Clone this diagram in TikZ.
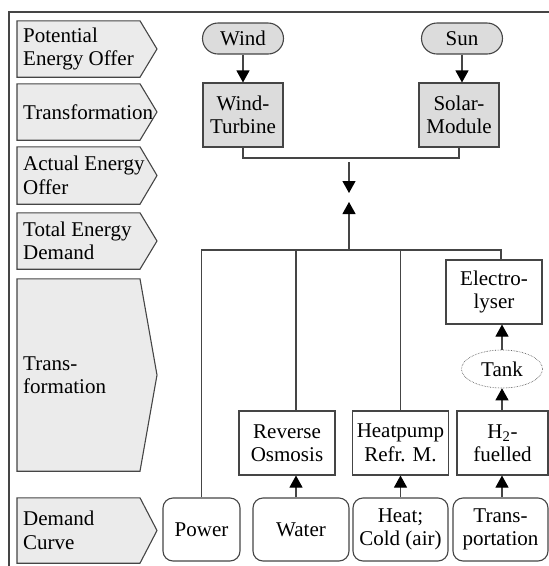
\documentclass[tikz,border=0pt]{standalone}
\usepackage{fontspec}
\setmainfont{Liberation Serif}
\usetikzlibrary{positioning,arrows.meta,shapes.geometric,backgrounds}
\hyphenpenalty=10000
\definecolor{linec}{HTML}{454545}
\definecolor{lblfill}{HTML}{EBEBEB}
\definecolor{srcfill}{HTML}{DCDCDC}
\begin{document}
\begin{tikzpicture}[x=1pt, y=-1pt,
  every node/.style={font=\fontsize{21}{23.5}\selectfont, inner sep=0pt},
  lbl/.style={anchor=west, align=left, inner xsep=6pt},
  lblshape/.style={draw=linec, fill=lblfill, line width=1.1pt},
  src/.style={draw=linec, fill=srcfill, line width=1.1pt, rounded corners=15.5pt, minimum width=81pt, minimum height=31pt},
  gen/.style={draw=linec, fill=srcfill, line width=1.1pt, minimum width=80pt, minimum height=64pt, align=center},
  conv/.style={draw=linec, line width=1.1pt, minimum width=96pt, minimum height=64pt, align=center},
  dem/.style={draw=linec, line width=1.1pt, rounded corners=10pt, minimum height=63pt, align=center},
  link/.style={draw=linec, line width=1.1pt},
  flow/.style={link, -{Triangle[color=black, width=13pt, length=12pt]}}]
\useasboundingbox (0,0) rectangle (549,566);
\draw[link] (549,12) -- (9,12) -- (9,566);
% stage labels on the left
\coordinate (bodyR) at (140,0);
\coordinate (tipR) at (157,0);
\foreach \n/\y/\h/\t in {1/49/56/{Potential\\Energy Offer}, 2/112/56/Transformation, 3/175.5/57/{Actual Energy\\Offer}, 4/241/56/{Total Energy\\Demand}, 5/375/192/{Trans-\\formation}, 6/530.5/65/{Demand\\Curve}}{
\node[lbl, minimum height=\h pt] (lbl\n) at (17,\y) {\t};
\begin{scope}[on background layer]
\draw[lblshape] (lbl\n.north west) -- (lbl\n.north west -| bodyR) -- (lbl\n.west -| tipR) -- (lbl\n.south west -| bodyR) -- (lbl\n.south west) -- cycle;
\end{scope}
}
% energy offer
\node[src] (wind) at (243,38.5) {Wind};
\node[src] (sun) at (462,38.5) {Sun};
\node[gen] (wt) at (243,115) {Wind-\\Turbine};
\node[gen] (sm) at (459,115) {Solar-\\Module};
\draw[flow] (wind) -- (wt);
\draw[flow] (sun.south) -- (sun.south |- sm.north);
\coordinate (offer) at (349,158);
\coordinate (offerS) at (349,162);
\coordinate (dn) at (349,193);
\coordinate (up) at (349,202);
\coordinate (bus) at (349,250);
\coordinate (busR) at (501,250);
\coordinate (roIn) at (296,250);
\draw[link] (wt.south) |- (offer) -| (sm.south);
\draw[flow] (offerS) -- (dn);
\draw[flow] (bus) -- (up);
% demand side
\node[dem, minimum width=77pt] (power) at (201.5,529.5) {Power};
\node[dem, minimum width=96pt] (water) at (301,529.5) {Water};
\node[dem, minimum width=95pt] (heat) at (400.5,529.5) {Heat;\\Cold (air)};
\node[dem, minimum width=95pt] (trans) at (500.5,529.5) {Trans-\\portation};
\node[conv] (ro) at (287,443) {Reverse\\Osmosis};
\node[conv] (hp) at (400.5,443) {Heatpump\\Refr. M.};
\node[conv, minimum width=91pt] (h2) at (502.5,443) {H\textsubscript{2}-\\fuelled};
\node[draw=linec, densely dotted, line width=0.6pt, ellipse, minimum width=81pt, minimum height=38pt] (tank) at (502,369) {Tank};
\node[conv] (elec) at (494,292) {Electro-\\lyser};
\draw[link] (power.north) |- (busR) -- (busR |- elec.north);
\draw[link] (roIn) -- (roIn |- ro.north);
\draw[link] (hp.north |- busR) -- (hp.north);
\draw[flow] (water.north -| roIn) -- (ro.south -| roIn);
\draw[flow] (heat) -- (hp);
\draw[flow] (trans.north -| tank) -- (h2.south -| tank);
\draw[flow] (h2.north -| tank) -- (tank.south);
\draw[flow] (tank.north) -- (tank.north |- elec.south);
\end{tikzpicture}
\end{document}
